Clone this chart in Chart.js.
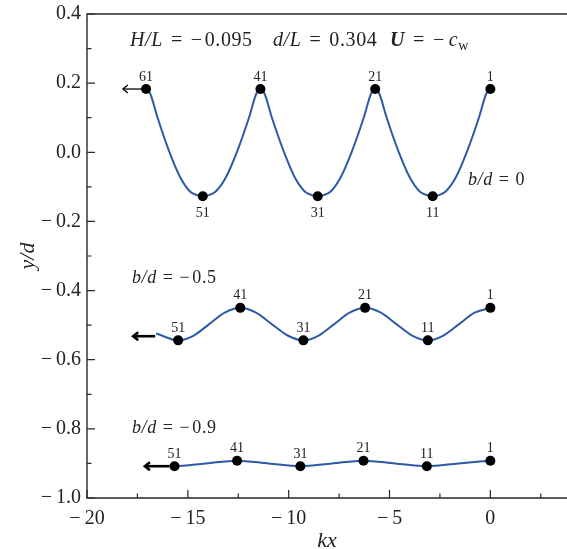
<!DOCTYPE html>
<html><head><meta charset="utf-8">
<script src="https://cdn.jsdelivr.net/npm/chart.js@4/dist/chart.umd.min.js"></script>
<style>html,body{margin:0;padding:0;background:#fff}canvas{display:block}</style>
</head><body>
<canvas id="c" width="567" height="549"></canvas>
<script>
// ---- tick values ----
const xTicks = [-20, -15, -10, -5, 0];
const xMinorTicks = [-17.5, -12.5, -7.5, -2.5, 2.5];
const yTicks = [0.4, 0.2, 0.0, -0.2, -0.4, -0.6, -0.8, -1.0];
const yMinorTicks = [0.3, 0.1, -0.1, -0.3, -0.5, -0.7, -0.9];

// ---- b/d = 0 ----
const topX = [-17.07,-16.87,-16.50,-15.94,-15.38,-14.88,-14.54,-14.26,-13.97,-13.63,-13.11,-12.54,-11.97,-11.60,-11.40,-11.20,-10.83,-10.26,-9.70,-9.19,-8.84,-8.56,-8.27,-7.93,-7.42,-6.85,-6.28,-5.91,-5.71,-5.51,-5.14,-4.57,-4.00,-3.49,-3.14,-2.86,-2.57,-2.23,-1.71,-1.14,-0.57,-0.20,0];
const topY = [0.183,0.170,0.100,0.005,-0.072,-0.114,-0.124,-0.127,-0.124,-0.114,-0.072,0.005,0.100,0.170,0.183,0.170,0.100,0.005,-0.072,-0.114,-0.124,-0.127,-0.124,-0.114,-0.072,0.005,0.100,0.170,0.183,0.170,0.100,0.005,-0.072,-0.114,-0.124,-0.127,-0.124,-0.114,-0.072,0.005,0.100,0.170,0.183];
const topMarkX = [-17.07,-14.26,-11.40,-8.56,-5.71,-2.86,0];
const topMarkY = [0.183,-0.127,0.183,-0.127,0.183,-0.127,0.183];
const topMarkLabels = ['61','51','41','31','21','11','1'];
const topArrow = [-17.07, -18.22, 0.183];

// ---- b/d = -0.5 ----
const midX = [-16.57,-15.48,-14.71,-13.94,-13.17,-12.40,-11.62,-10.84,-10.05,-9.27,-8.51,-7.74,-6.98,-6.21,-5.43,-4.66,-3.88,-3.10,-2.33,-1.55,-0.78,0];
const midY = [-0.524,-0.544,-0.530,-0.497,-0.464,-0.450,-0.464,-0.497,-0.530,-0.544,-0.530,-0.497,-0.464,-0.450,-0.464,-0.497,-0.530,-0.544,-0.530,-0.497,-0.464,-0.450];
const midMarkX = [-15.48,-12.40,-9.27,-6.21,-3.10,0];
const midMarkY = [-0.544,-0.450,-0.544,-0.450,-0.544,-0.450];
const midMarkLabels = ['51','41','31','21','11','1'];
const midArrow = [-16.62, -17.71, -0.532];

// ---- b/d = -0.9 ----
const botX = [-15.90,-15.66,-14.11,-12.56,-10.99,-9.42,-7.86,-6.29,-4.72,-3.15,-1.58,0];
const botY = [-0.905,-0.908,-0.900,-0.892,-0.900,-0.908,-0.900,-0.892,-0.900,-0.908,-0.900,-0.892];
const botMarkX = [-15.66,-12.56,-9.42,-6.29,-3.15,0];
const botMarkY = [-0.908,-0.892,-0.908,-0.892,-0.908,-0.892];
const botMarkLabels = ['51','41','31','21','11','1'];
const botArrow = [-15.91, -17.13, -0.908];

const FAM = '"Liberation Serif", "DejaVu Serif", serif';
const BLUE = '#2c5aa6';
const TXT = '#222';
const pts = (xs, ys) => xs.map((x, i) => ({x, y: ys[i]}));
const minus = v => (v < -1e-9 ? '\u2212\u2009' : '');

function drawRuns(ctx, x, y, runs, size) {
  let cx = x;
  for (const [t, s] of runs) {
    if (s === 'gap') { cx += t; continue; }
    let font, dy = 0;
    if (s === 'i') font = `italic ${size}px ${FAM}`;
    else if (s === 'bi') font = `italic bold ${size}px ${FAM}`;
    else if (s === 'sub') { font = `${Math.round(size * 0.72)}px ${FAM}`; dy = size * 0.22; }
    else font = `${size}px ${FAM}`;
    ctx.font = font;
    ctx.fillText(t, cx, y + dy);
    cx += ctx.measureText(t).width;
  }
}

const framePlugin = {
  id: 'frameTicks',
  afterDraw(chart) {
    const {ctx, chartArea: a, scales: {x, y}} = chart;
    ctx.save();
    ctx.strokeStyle = '#2a2a2a';
    ctx.lineWidth = 1.4;
    ctx.beginPath();
    ctx.moveTo(chart.width, a.top); ctx.lineTo(a.left, a.top);
    ctx.lineTo(a.left, a.bottom); ctx.lineTo(chart.width, a.bottom);
    ctx.stroke();
    ctx.lineWidth = 1.2;
    ctx.beginPath();
    xTicks.forEach(v => { const p = x.getPixelForValue(v); ctx.moveTo(p, a.bottom); ctx.lineTo(p, a.bottom - 8); });
    xMinorTicks.forEach(v => { const p = x.getPixelForValue(v); ctx.moveTo(p, a.bottom); ctx.lineTo(p, a.bottom - 4.5); });
    yTicks.forEach(v => { const p = y.getPixelForValue(v); ctx.moveTo(a.left, p); ctx.lineTo(a.left + 8, p); });
    yMinorTicks.forEach(v => { const p = y.getPixelForValue(v); ctx.moveTo(a.left, p); ctx.lineTo(a.left + 4.5, p); });
    ctx.stroke();
    ctx.restore();
  }
};

const annoPlugin = {
  id: 'anno',
  afterDatasetsDraw(chart) {
    const {ctx, scales: {x, y}} = chart;
    ctx.save();
    ctx.strokeStyle = '#000'; ctx.fillStyle = '#000';
    const arrow = (arr, lw, head) => {
      const x0 = x.getPixelForValue(arr[0]), x1 = x.getPixelForValue(arr[1]), yy = y.getPixelForValue(arr[2]);
      ctx.lineWidth = lw; ctx.lineCap = 'butt'; ctx.lineJoin = 'miter';
      ctx.beginPath(); ctx.moveTo(x0, yy); ctx.lineTo(x1 + 1, yy); ctx.stroke();
      ctx.beginPath(); ctx.moveTo(x1 + head, yy - head * 0.8); ctx.lineTo(x1, yy); ctx.lineTo(x1 + head, yy + head * 0.8); ctx.stroke();
    };
    arrow(topArrow, 1.3, 5);
    arrow(midArrow, 2.6, 5);
    arrow(botArrow, 2.6, 5);

    ctx.fillStyle = TXT;
    ctx.font = `14px ${FAM}`;
    ctx.textAlign = 'center';
    ctx.textBaseline = 'alphabetic';
    const lab = (xs, ys, ls, troughBelow) => {
      const mean = (Math.max(...ys) + Math.min(...ys)) / 2;
      xs.forEach((v, i) => {
        const px = x.getPixelForValue(v), py = y.getPixelForValue(ys[i]);
        if (troughBelow && ys[i] < mean) ctx.fillText(ls[i], px, py + 21);
        else ctx.fillText(ls[i], px, py - 8.5);
      });
    };
    lab(topMarkX, topMarkY, topMarkLabels, true);
    lab(midMarkX, midMarkY, midMarkLabels, false);
    lab(botMarkX, botMarkY, botMarkLabels, false);

    ctx.textAlign = 'left';
    ctx.letterSpacing = '0.6px';
    const S = 20;
    drawRuns(ctx, 130, 46, [['H/L', 'i'], [8, 'gap'], ['=', 'r'], [8, 'gap'], ['\u2212', 'r'], [2, 'gap'], ['0.095', 'r']], S);
    drawRuns(ctx, 273, 46, [['d/L', 'i'], [8, 'gap'], ['=', 'r'], [8, 'gap'], ['0.304', 'r']], S);
    drawRuns(ctx, 390, 46, [['U', 'bi'], [8, 'gap'], ['=', 'r'], [8, 'gap'], ['\u2212', 'r'], [4, 'gap'], ['c', 'i'], ['w', 'sub']], S);
    const S2 = 18;
    drawRuns(ctx, 468, 185, [['b/d', 'i'], [6, 'gap'], ['=', 'r'], [6, 'gap'], ['0', 'r']], S2);
    drawRuns(ctx, 132, 283, [['b/d', 'i'], [6, 'gap'], ['=', 'r'], [6, 'gap'], ['\u2212', 'r'], [2, 'gap'], ['0.5', 'r']], S2);
    drawRuns(ctx, 132, 433, [['b/d', 'i'], [6, 'gap'], ['=', 'r'], [6, 'gap'], ['\u2212', 'r'], [2, 'gap'], ['0.9', 'r']], S2);
    ctx.restore();
  }
};

const lineDs = (xs, ys) => ({data: pts(xs, ys), showLine: true, order: 1, pointRadius: 0, borderColor: BLUE, borderWidth: 2, cubicInterpolationMode: 'monotone', fill: false});
const markDs = (xs, ys) => ({data: pts(xs, ys), showLine: false, order: 0, pointRadius: 5, pointBackgroundColor: '#000', pointBorderWidth: 0, pointBorderColor: '#000'});

new Chart(document.getElementById('c'), {
  type: 'scatter',
  data: {datasets: [
    markDs(topMarkX, topMarkY), markDs(midMarkX, midMarkY), markDs(botMarkX, botMarkY),
    lineDs(topX, topY), lineDs(midX, midY), lineDs(botX, botY)
  ]},
  options: {
    responsive: false, animation: false, devicePixelRatio: 1,
    layout: {autoPadding: false, padding: {top: 14, right: 0, left: 0, bottom: 0}},
    plugins: {legend: {display: false}, tooltip: {enabled: false}},
    scales: {
      x: {
        type: 'linear', min: -20, max: 3.8,
        afterBuildTicks: s => { s.ticks = xTicks.map(v => ({value: v})); },
        afterFit: s => { s.height = 51; s.paddingLeft = 0; s.paddingRight = 0; },
        grid: {display: false, drawTicks: false}, border: {display: false},
        ticks: {padding: 9, color: TXT, font: {family: FAM, size: 20}, maxRotation: 0,
          callback: v => minus(v) + Math.abs(v).toFixed(0)},
        title: {display: true, text: 'kx', color: TXT, font: {family: FAM, size: 22, style: 'italic', lineHeight: 0.75}, padding: {top: 0, bottom: 0}}
      },
      y: {
        type: 'linear', min: -1.0, max: 0.4,
        afterBuildTicks: s => { s.ticks = yTicks.map(v => ({value: v})); },
        afterFit: s => { s.width = 87; s.paddingTop = 0; s.paddingBottom = 0; },
        grid: {display: false, drawTicks: false}, border: {display: false},
        ticks: {padding: 6, color: TXT, font: {family: FAM, size: 20},
          callback: v => minus(v) + Math.abs(v).toFixed(1)},
        title: {display: true, text: 'y/d', color: TXT, font: {family: FAM, size: 22, style: 'italic'}, padding: {top: 15, bottom: 0}}
      }
    }
  },
  plugins: [framePlugin, annoPlugin]
});
</script>
</body></html>
